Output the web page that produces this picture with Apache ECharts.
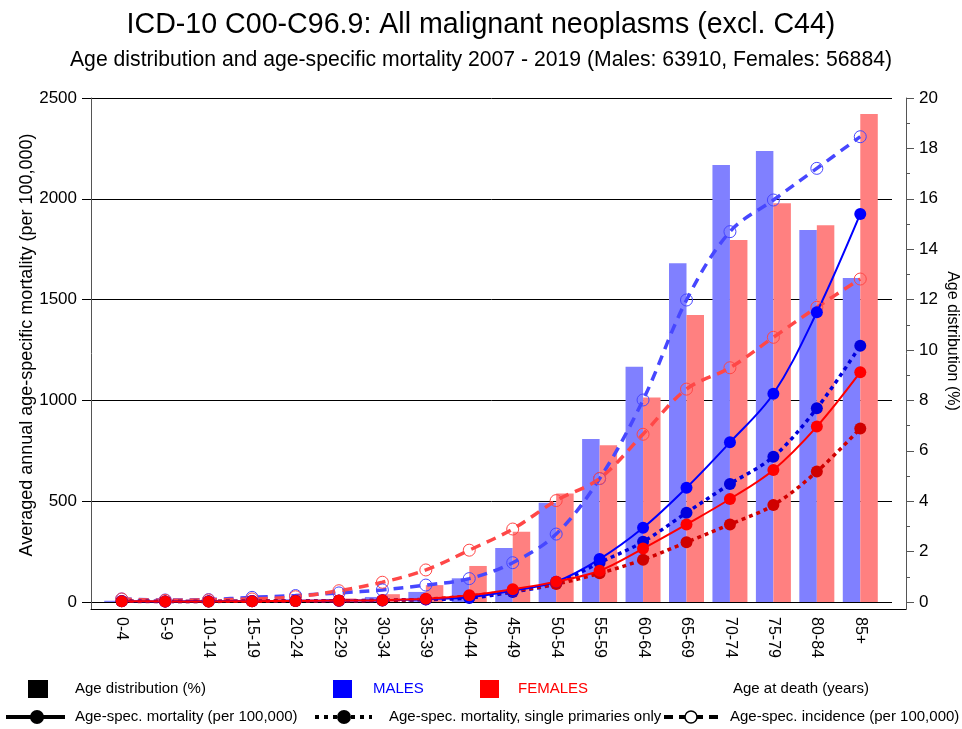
<!DOCTYPE html>
<html>
<head>
<meta charset="utf-8">
<script src="https://cdn.jsdelivr.net/npm/echarts@6/dist/echarts.min.js"></script>
<style>html,body{margin:0;padding:0;background:#fff;}#chart{width:962px;height:729px;}</style>
</head>
<body>
<div id="chart"></div>
<script>
const categories = ['0-4','5-9','10-14','15-19','20-24','25-29','30-34','35-39','40-44','45-49','50-54','55-59','60-64','65-69','70-74','75-79','80-84','85+'];
// Age distribution (%)
const distMales   = [0.05, 0.03, 0.05, 0.08, 0.10, 0.12, 0.20, 0.40, 0.94, 2.14, 3.94, 6.47, 9.34, 13.44, 17.34, 17.90, 14.76, 12.86];
const distFemales = [0.05, 0.03, 0.05, 0.07, 0.10, 0.14, 0.31, 0.67, 1.43, 2.79, 4.31, 6.22, 8.12, 11.39, 14.37, 15.82, 14.95, 19.37];
// Age-specific mortality (per 100,000)
const mortMales         = [5, 3, 4, 5, 6, 7, 9, 14, 23, 56, 101, 213, 368, 567, 792, 1033, 1437, 1925];
const mortMalesSingle   = [4, 3, 3, 4, 5, 6, 8, 12, 20, 50, 93, 195, 299, 443, 585, 721, 961, 1271];
const mortFemales       = [4, 3, 3, 4, 5, 7, 9, 16, 33, 63, 101, 155, 265, 385, 511, 655, 870, 1140];
const mortFemalesSingle = [4, 2, 3, 4, 5, 6, 8, 14, 30, 55, 89, 142, 210, 296, 385, 481, 647, 861];
// Age-specific incidence (per 100,000)
const incMales   = [15, 10, 12, 23, 32, 45, 60, 84, 116, 195, 337, 612, 1002, 1498, 1837, 1994, 2151, 2308];
const incFemales = [15, 8, 10, 15, 26, 56, 98, 159, 257, 362, 503, 613, 832, 1056, 1162, 1313, 1462, 1602];
// Tick labels
const leftTicks = [0, 500, 1000, 1500, 2000, 2500];
const rightTicks = [0, 2, 4, 6, 8, 10, 12, 14, 16, 18, 20];
const rightMinorTicks = [1, 3, 5, 7, 9, 11, 13, 15, 17, 19];

const FONT = '"Liberation Sans", Arial, sans-serif';
const chart = echarts.init(document.getElementById('chart'), null, {renderer: 'canvas'});

function lineSeries(name, data, color, type, width, filled) {
  return {
    name: name, type: 'line', xAxisIndex: 0, yAxisIndex: 0, data: data,
    smooth: 0.35, symbol: 'circle', symbolSize: 12,
    lineStyle: {color: color, width: width, type: type},
    itemStyle: filled ? {color: color} : {color: 'rgba(255,255,255,0)', borderColor: color, borderWidth: 1},
    z: 5, animation: false
  };
}

const option = {
  animation: false,
  backgroundColor: '#fff',
  title: [
    {text: 'ICD-10 C00-C96.9: All malignant neoplasms (excl. C44)', left: 'center', top: 6,
     textStyle: {fontFamily: FONT, fontSize: 28.6, fontWeight: 'normal', color: '#000'}},
    {text: 'Age distribution and age-specific mortality 2007 - 2019 (Males: 63910, Females: 56884)', left: 'center', top: 45,
     textStyle: {fontFamily: FONT, fontSize: 21.2, fontWeight: 'normal', color: '#000'}}
  ],
  grid: [
    {left: 100, right: 80, top: 98, bottom: 127},
    {left: 91, right: 56, top: 98, bottom: 120},
    {left: 91, right: 70, top: 98, bottom: 127}
  ],
  xAxis: [
    {gridIndex: 0, type: 'category', data: categories,
     axisLine: {show: false}, axisTick: {show: false}, splitLine: {show: false},
     axisLabel: {rotate: -90, margin: 15, interval: 0, fontSize: 16, color: '#000', fontFamily: FONT}},
    {gridIndex: 1, type: 'value', min: 0, max: 1,
     axisLine: {show: true, onZero: false, lineStyle: {color: '#000', width: 1}},
     axisTick: {show: false}, axisLabel: {show: false}, splitLine: {show: false}},
    {gridIndex: 2, type: 'value', min: 0, max: 1, show: false}
  ],
  yAxis: [
    {gridIndex: 0, type: 'value', min: 0, max: 2500, show: false},
    {gridIndex: 0, type: 'value', min: 0, max: 20, show: false},
    {gridIndex: 1, type: 'value', position: 'left', min: -34.72, max: 2500,
     axisLine: {show: true, onZero: false, lineStyle: {color: '#555', width: 1}},
     axisTick: {show: true, length: 9, customValues: leftTicks, lineStyle: {color: '#000'}},
     axisLabel: {customValues: leftTicks, fontSize: 17, margin: 14, color: '#000', fontFamily: FONT,
                 formatter: function (v) { return String(Math.round(v)); }},
     splitLine: {show: false}},
    {gridIndex: 1, type: 'value', position: 'right', min: -0.2778, max: 20,
     axisLine: {show: true, onZero: false, lineStyle: {color: '#555', width: 1}},
     axisTick: {show: true, length: 8, customValues: rightTicks, lineStyle: {color: '#555'}},
     axisLabel: {customValues: rightTicks, fontSize: 17, margin: 13, color: '#000', fontFamily: FONT,
                 formatter: function (v) { return String(Math.round(v)); }},
     splitLine: {show: false}},
    {gridIndex: 1, type: 'value', position: 'right', min: -0.2778, max: 20,
     axisLine: {show: false, onZero: false},
     axisTick: {show: true, length: 4, customValues: rightMinorTicks, lineStyle: {color: '#555'}},
     axisLabel: {show: false}, splitLine: {show: false}},
    {gridIndex: 2, type: 'value', min: 0, max: 2500, interval: 500,
     axisLine: {show: false}, axisTick: {show: false}, axisLabel: {show: false},
     splitLine: {show: true, lineStyle: {color: '#000', width: 1}}}
  ],
  series: [
    {name: 'Males', type: 'bar', xAxisIndex: 0, yAxisIndex: 1, data: distMales, barWidth: 17.5, barGap: '0%',
     itemStyle: {color: '#8080ff'}, z: 2},
    {name: 'Females', type: 'bar', xAxisIndex: 0, yAxisIndex: 1, data: distFemales, barWidth: 17.5, barGap: '0%',
     itemStyle: {color: '#ff8080'}, z: 2},
    lineSeries('Inc M', incMales, '#4747ff', [10, 7], 3.5, false),
    lineSeries('Inc F', incFemales, '#ff4747', [10, 7], 3.5, false),
    lineSeries('MortS M', mortMalesSingle, '#0000dd', [4, 4], 3.5, true),
    lineSeries('MortS F', mortFemalesSingle, '#d00000', [4, 4], 3.5, true),
    lineSeries('Mort M', mortMales, '#0000ff', 'solid', 2, true),
    lineSeries('Mort F', mortFemales, '#ff0000', 'solid', 2, true)
  ],
  graphic: [
    {type: 'text', x: 27, y: 345, rotation: Math.PI / 2,
     style: {text: 'Averaged annual age-specific mortality (per 100,000)', fill: '#000', font: '18px ' + FONT, align: 'center', verticalAlign: 'middle'}},
    {type: 'text', x: 952, y: 341, rotation: -Math.PI / 2,
     style: {text: 'Age distribution (%)', fill: '#000', font: '16px ' + FONT, align: 'center', verticalAlign: 'middle'}},
    // legend row 1
    {type: 'rect', shape: {x: 28, y: 680, width: 20, height: 18}, style: {fill: '#000'}},
    {type: 'text', x: 75, y: 689, style: {text: 'Age distribution (%)', fill: '#000', font: '15px ' + FONT, verticalAlign: 'middle'}},
    {type: 'rect', shape: {x: 333, y: 680, width: 19, height: 18}, style: {fill: '#0000ff'}},
    {type: 'text', x: 373, y: 689, style: {text: 'MALES', fill: '#0000ff', font: '15px ' + FONT, verticalAlign: 'middle'}},
    {type: 'rect', shape: {x: 480, y: 680, width: 19, height: 18}, style: {fill: '#ff0000'}},
    {type: 'text', x: 518, y: 689, style: {text: 'FEMALES', fill: '#ff0000', font: '15px ' + FONT, verticalAlign: 'middle'}},
    {type: 'text', x: 733, y: 689, style: {text: 'Age at death (years)', fill: '#000', font: '15px ' + FONT, verticalAlign: 'middle'}},
    // legend row 2
    {type: 'line', shape: {x1: 6, y1: 717, x2: 65, y2: 717}, style: {stroke: '#000', lineWidth: 4}},
    {type: 'circle', shape: {cx: 37, cy: 717, r: 7}, style: {fill: '#000'}},
    {type: 'text', x: 75, y: 717, style: {text: 'Age-spec. mortality (per 100,000)', fill: '#000', font: '15px ' + FONT, verticalAlign: 'middle'}},
    {type: 'line', shape: {x1: 315, y1: 717, x2: 372, y2: 717}, style: {stroke: '#000', lineWidth: 4, lineDash: [4, 5]}},
    {type: 'circle', shape: {cx: 344, cy: 717, r: 7}, style: {fill: '#000'}},
    {type: 'text', x: 389, y: 717, style: {text: 'Age-spec. mortality, single primaries only', fill: '#000', font: '15px ' + FONT, verticalAlign: 'middle'}},
    {type: 'line', shape: {x1: 664, y1: 717, x2: 722, y2: 717}, style: {stroke: '#000', lineWidth: 4, lineDash: [9, 6]}},
    {type: 'circle', shape: {cx: 691, cy: 717, r: 6}, style: {fill: '#fff', stroke: '#000', lineWidth: 1.5}},
    {type: 'text', x: 730, y: 717, style: {text: 'Age-spec. incidence (per 100,000)', fill: '#000', font: '15px ' + FONT, verticalAlign: 'middle'}}
  ]
};
chart.setOption(option);
</script>
</body>
</html>
